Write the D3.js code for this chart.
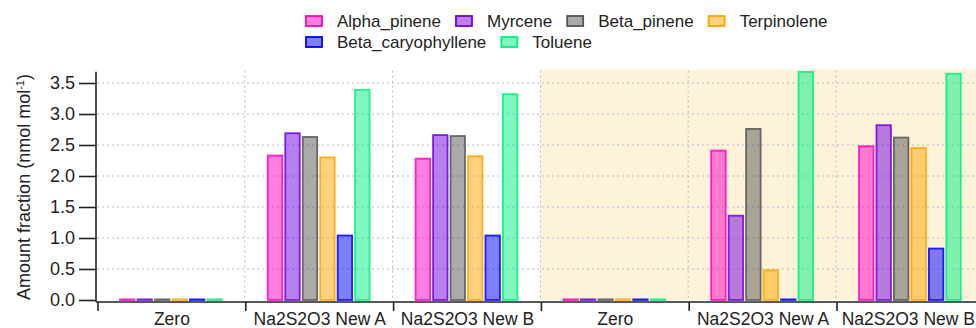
<!DOCTYPE html>
<html>
<head>
<meta charset="utf-8">
<script src="https://cdn.jsdelivr.net/npm/d3@7"></script>
<style>
  html, body { margin: 0; padding: 0; background: #fff; }
  svg { display: block; font-family: Arial, "Liberation Sans", sans-serif; }
</style>
</head>
<body>
<svg id="chart" width="976" height="328"></svg>
<script>
// Sample groups along the x axis (the second half of the run is shaded)
const categories = ["Zero", "Na2S2O3 New A", "Na2S2O3 New B", "Zero", "Na2S2O3 New A", "Na2S2O3 New B"];
const shadedGroups = [3, 4, 5];

// Compounds, in bar order within each group
const seriesNames = ["Alpha_pinene", "Myrcene", "Beta_pinene", "Terpinolene", "Beta_caryophyllene", "Toluene"];

// Amount fractions (nmol mol-1) per group
const alphaPinene       = [0.01, 2.33, 2.28, 0.01, 2.41, 2.48];
const myrcene           = [0.01, 2.69, 2.66, 0.01, 1.36, 2.82];
const betaPinene        = [0.01, 2.63, 2.645, 0.01, 2.76, 2.62];
const terpinolene       = [0.01, 2.30, 2.32, 0.01, 0.48, 2.45];
const betaCaryophyllene = [0.01, 1.04, 1.04, 0.01, 0.01, 0.83];
const toluene           = [0.01, 3.39, 3.32, 0.01, 3.68, 3.65];

// Y axis tick values
const yTicks = [0.0, 0.5, 1.0, 1.5, 2.0, 2.5, 3.0, 3.5];

const seriesValues = [alphaPinene, myrcene, betaPinene, terpinolene, betaCaryophyllene, toluene];
const seriesColors = ["#ff00c0", "#7000e0", "#555555", "#ffa500", "#0000ff", "#00f080"];

const W = 976;
const svg = d3.select("#chart");
const left = 97, groupW = 147.8;
const yBottom = 300, yTopVal = 3.7, pxPerUnit = 62;

const x0 = d3.scaleBand()
  .domain(d3.range(categories.length))
  .range([left, left + groupW * categories.length])
  .paddingInner(0).paddingOuter(0);

const x1 = d3.scaleBand()
  .domain(seriesNames)
  .range([21.5, groupW - 21.5])
  .paddingInner(0.17)
  .paddingOuter(0.085);

const y = d3.scaleLinear()
  .domain([0, yTopVal])
  .range([yBottom, yBottom - yTopVal * pxPerUnit]);

const color = d3.scaleOrdinal().domain(seriesNames).range(seriesColors);

// Shaded background for the second run
const shadeStart = d3.min(shadedGroups, i => x0(i));
const shadeEnd = d3.max(shadedGroups, i => x0(i) + x0.bandwidth());
svg.append("rect")
  .attr("x", shadeStart)
  .attr("y", y(yTopVal) - 1)
  .attr("width", shadeEnd - shadeStart)
  .attr("height", y(0) - y(yTopVal) + 1)
  .attr("fill", "#fef2d8");

// Dotted grid
const grid = svg.append("g")
  .attr("stroke", "#b8b8d4")
  .attr("stroke-width", 1)
  .attr("stroke-dasharray", "2,3");
grid.selectAll("line.h")
  .data(yTicks.filter(d => d > 0))
  .join("line")
  .attr("class", "h")
  .attr("x1", left).attr("x2", x0.range()[1])
  .attr("y1", d => y(d)).attr("y2", d => y(d));
grid.selectAll("line.v")
  .data(d3.range(1, categories.length))
  .join("line")
  .attr("class", "v")
  .attr("x1", d => x0(d)).attr("x2", d => x0(d))
  .attr("y1", y(yTopVal)).attr("y2", y(0));

// Bars
const groups = svg.append("g").selectAll("g")
  .data(categories.map((c, i) => i))
  .join("g")
  .attr("transform", i => `translate(${x0(i)},0)`);

groups.selectAll("rect")
  .data(i => seriesNames.map((s, k) => ({ s, v: seriesValues[k][i] })))
  .join("rect")
  .attr("x", d => x1(d.s))
  .attr("width", x1.bandwidth())
  .attr("y", d => y(d.v))
  .attr("height", d => y(0) - y(d.v))
  .attr("fill", d => color(d.s))
  .attr("fill-opacity", 0.5)
  .attr("stroke", d => color(d.s))
  .attr("stroke-opacity", 0.85)
  .attr("stroke-width", 1.8);

// Y axis
const yAxis = svg.append("g")
  .attr("transform", `translate(${left - 1},0)`)
  .call(d3.axisLeft(y).tickValues(yTicks).tickFormat(d3.format(".1f")).tickSize(17).tickPadding(4).tickSizeOuter(0));
yAxis.select(".domain").remove();
yAxis.append("line")
  .attr("x1", 0).attr("x2", 0)
  .attr("y1", y(3.68)).attr("y2", 302)
  .attr("stroke", "#222").attr("stroke-width", 1.6);
yAxis.selectAll(".tick line").attr("stroke", "#222").attr("stroke-width", 1.6);
yAxis.selectAll(".tick text").attr("fill", "#222").style("font-size", "18px");

// X axis: baseline, boundary ticks and group labels
const xAxis = svg.append("g").attr("transform", "translate(0,302)");
xAxis.append("line")
  .attr("x1", left - 1).attr("x2", x0.range()[1])
  .attr("y1", 0).attr("y2", 0)
  .attr("stroke", "#222").attr("stroke-width", 1.6);
xAxis.selectAll("line.bt")
  .data(d3.range(categories.length))
  .join("line")
  .attr("class", "bt")
  .attr("x1", i => x0(i) + 1).attr("x2", i => x0(i) + 1)
  .attr("y1", 0).attr("y2", 9)
  .attr("stroke", "#222").attr("stroke-width", 1.6);
xAxis.selectAll("text")
  .data(d3.range(categories.length))
  .join("text")
  .attr("x", i => x0(i) + x0.bandwidth() / 2 + 1)
  .attr("y", 23)
  .attr("text-anchor", "middle")
  .attr("fill", "#222")
  .style("font-size", "17.5px")
  .text(i => categories[i])
  .each(function () {
    // keep the rightmost label inside the drawing
    const w = this.getComputedTextLength();
    const cx = +this.getAttribute("x");
    if (cx + w / 2 > W - 1) this.setAttribute("x", W - 1 - w / 2);
  });

// Y axis title
const yTitle = svg.append("text")
  .attr("transform", "translate(30,187) rotate(-90)")
  .attr("text-anchor", "middle")
  .attr("fill", "#222")
  .style("font-size", "18px");
yTitle.append("tspan").text("Amount fraction (nmol mol");
yTitle.append("tspan").attr("baseline-shift", "super").style("font-size", "11px").text("-1");
yTitle.append("tspan").text(")");

// Legend: two rows, items laid out left to right
const legendRows = [seriesNames.slice(0, 4), seriesNames.slice(4)];
const legend = svg.append("g");
legendRows.forEach((row, r) => {
  let cx = 306;
  const cy = 21 + r * 21;
  row.forEach(name => {
    legend.append("rect")
      .attr("x", cx).attr("y", cy - 5)
      .attr("width", 16).attr("height", 10)
      .attr("fill", color(name)).attr("fill-opacity", 0.5)
      .attr("stroke", color(name)).attr("stroke-width", 1.8);
    const t = legend.append("text")
      .attr("x", cx + 31).attr("y", cy + 6)
      .attr("fill", "#222")
      .style("font-size", "17px")
      .text(name);
    cx += 31 + t.node().getComputedTextLength() + 15;
  });
});
</script>
</body>
</html>
